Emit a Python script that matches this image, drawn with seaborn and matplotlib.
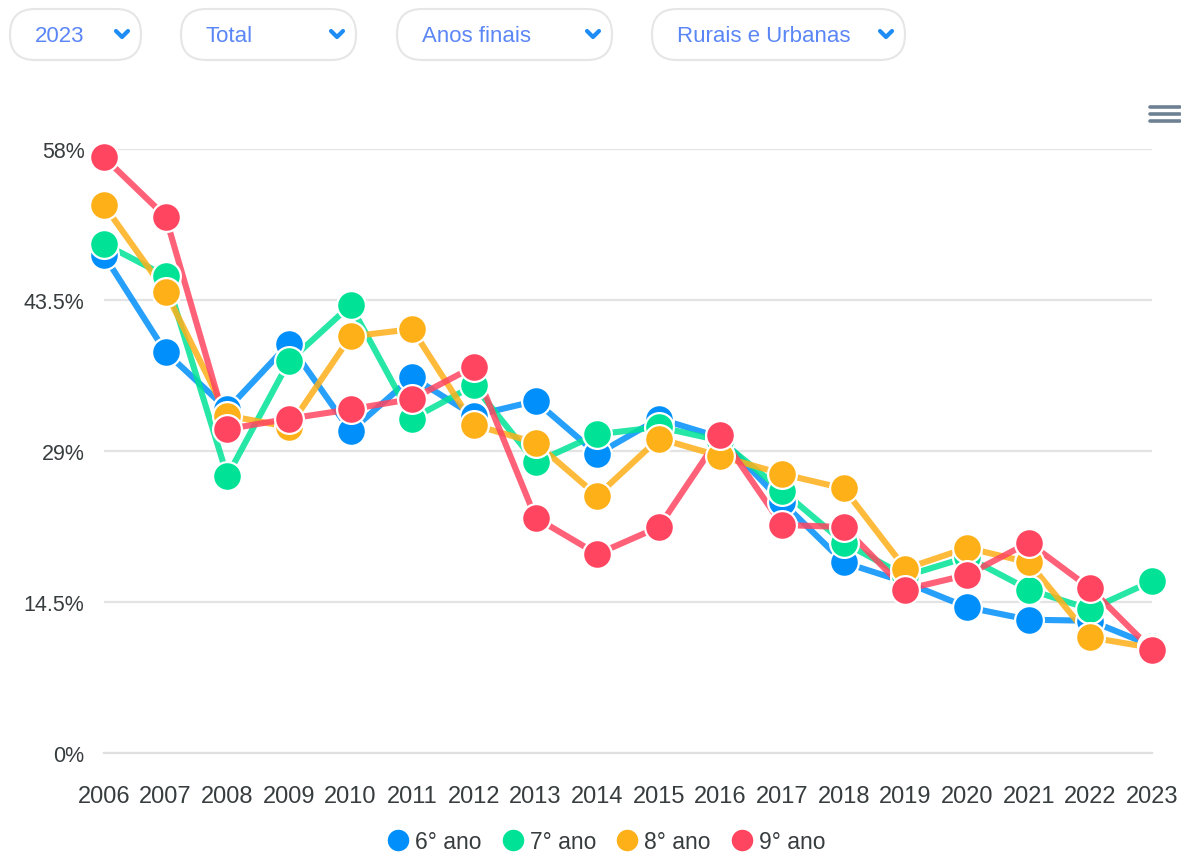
import numpy as np
import pandas as pd
import matplotlib
matplotlib.use("Agg")
import matplotlib.pyplot as plt
import seaborn as sns
from matplotlib.patches import FancyBboxPatch
from matplotlib.lines import Line2D

# dados (percentual por ano e série)
anos = list(range(2006, 2024))
serie_6 = [47.8, 38.5, 33.0, 39.3, 30.9, 36.1, 32.4, 33.8, 28.7, 32.1, 30.3, 24.1, 18.3, 16.4, 14.0, 12.8, 12.7, 10.3]
serie_7 = [48.9, 45.8, 26.6, 37.6, 43.0, 32.1, 35.3, 27.9, 30.6, 31.3, 30.0, 25.2, 20.2, 17.0, 18.8, 15.7, 13.8, 16.5]
serie_8 = [52.6, 44.3, 32.4, 31.3, 40.0, 40.7, 31.5, 29.8, 24.7, 30.2, 28.5, 26.8, 25.4, 17.7, 19.7, 18.3, 11.1, 10.1]
serie_9 = [57.2, 51.5, 31.1, 32.1, 33.0, 34.0, 37.1, 22.6, 19.1, 21.7, 30.5, 21.9, 21.7, 15.7, 17.1, 20.2, 15.8, 9.9]

nomes = ["6° ano", "7° ano", "8° ano", "9° ano"]
cores = ["#008FFB", "#00E396", "#FEB019", "#FF4560"]

y_ticks = [0, 14.5, 29, 43.5, 58]
y_labels = ["0%", "14.5%", "29%", "43.5%", "58%"]

filtros = ["2023", "Total", "Anos finais", "Rurais e Urbanas"]

df = pd.DataFrame({
    "ano": anos * 4,
    "valor": serie_6 + serie_7 + serie_8 + serie_9,
    "serie": sum([[n] * len(anos) for n in nomes], []),
})

sns.set_style("white")
plt.rcParams["font.family"] = ["Liberation Sans", "DejaVu Sans"]

W, H = 1181, 853
fig = plt.figure(figsize=(W / 100, H / 100), dpi=100)
ax = fig.add_axes([104 / W, 1 - 754 / H, (1152 - 104) / W, (754 - 150) / H])

paleta = dict(zip(nomes, cores))

# linhas primeiro, marcadores por cima
sns.lineplot(data=df, x="ano", y="valor", hue="serie", palette=paleta, linewidth=4.4,
             alpha=0.85, legend=False, ax=ax, clip_on=False, zorder=2)
for nome in nomes:
    sub = df[df["serie"] == nome]
    sns.scatterplot(data=sub, x="ano", y="valor", color=paleta[nome], s=430,
                    edgecolor="white", linewidth=1.6, legend=False, ax=ax,
                    clip_on=False, zorder=3)

ax.set_xlim(2006, 2023)
ax.set_ylim(0, 58)
ax.set_xticks(anos)
ax.set_xticklabels([str(a) for a in anos])
ax.set_yticks(y_ticks)
ax.set_yticklabels(y_labels)
ax.set_xlabel("")
ax.set_ylabel("")
ax.grid(axis="y", color="#e3e3e3", linewidth=1.6)
ax.set_axisbelow(True)
for lado in ["top", "right", "left"]:
    ax.spines[lado].set_visible(False)
ax.spines["bottom"].set_color("#e0e0e0")
ax.spines["bottom"].set_linewidth(1.6)
ax.tick_params(axis="x", length=7, width=1.2, color="#e0e0e0", labelsize=17,
               labelcolor="#373d3f", pad=16)
ax.tick_params(axis="y", length=0, labelsize=15.5, labelcolor="#373d3f", pad=14)

# legenda
handles = [Line2D([0], [0], marker="o", color="none", markerfacecolor=c,
                  markeredgecolor="white", markersize=16.5) for c in cores]
ax.legend(handles, nomes, loc="center", bbox_to_anchor=(0.478, -0.147),
          ncol=4, frameon=False, fontsize=16.5, handletextpad=0.15,
          columnspacing=0.75, labelcolor="#373d3f", handlelength=1.2,
          borderpad=0.1)

# camada em pixels para os filtros e o ícone de menu
ov = fig.add_axes([0, 0, 1, 1])
ov.set_xlim(0, W)
ov.set_ylim(H, 0)
ov.axis("off")
ov.patch.set_visible(False)

pilulas = [(10, 141), (181, 356), (397, 612), (652, 905)]
for (x0, x1), txt in zip(pilulas, filtros):
    y0, y1 = 10, 61
    ov.add_patch(FancyBboxPatch((x0, y0), x1 - x0, y1 - y0,
                                boxstyle="round,pad=0,rounding_size=25",
                                facecolor="white", edgecolor="#e6e6e6", linewidth=1.5))
    ov.text(x0 + 25, 36, txt, ha="left", va="center", fontsize=16, color="#5b86f5")
    cx = x1 - 19
    ov.plot([cx - 6, cx, cx + 6], [32, 38, 32], color="#1e8cf5", linewidth=3,
            solid_capstyle="round", solid_joinstyle="round")

for yy in [108, 115, 122]:
    ov.plot([1150, 1180], [yy, yy], color="#6e8192", linewidth=2.6)

fig.savefig("out.png", dpi=100, facecolor="white")
